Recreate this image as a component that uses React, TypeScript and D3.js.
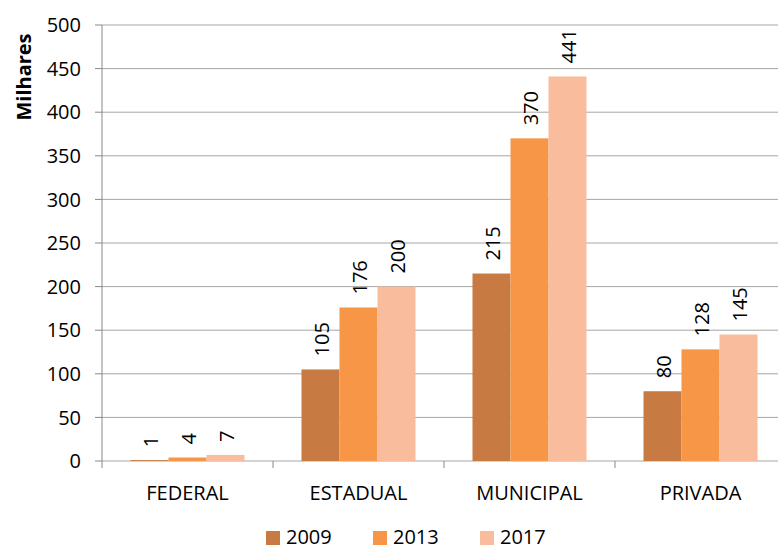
import React from "react";
import * as d3 from "d3";

const categories = ["FEDERAL", "ESTADUAL", "MUNICIPAL", "PRIVADA"];
const years = ["2009", "2013", "2017"];
const values2009 = [1, 105, 215, 80];
const values2013 = [4, 176, 370, 128];
const values2017 = [7, 200, 441, 145];
const yTicks = [0, 50, 100, 150, 200, 250, 300, 350, 400, 450, 500];
const colors = ["#C77B43", "#F79646", "#F9BC9C"];

export default function App() {
  const W = 778, H = 546;
  const left = 102, right = 786, top = 25, bottom = 461;
  const font = "'Open Sans', sans-serif";
  const series = [values2009, values2013, values2017];
  const y = d3.scaleLinear().domain([0, 500]).range([bottom, top]);
  const x0 = d3.scaleBand().domain(categories).range([left, right]).paddingInner(0).paddingOuter(0);
  const x1 = d3.scaleBand().domain(years).range([0, x0.bandwidth()]).paddingInner(0).paddingOuter(0.75);
  return (
    <svg width={W} height={H} style={{ position: "absolute", left: 0, top: 0, fontFamily: font }}>
      <rect width={W} height={H} fill="#fff" />
      {yTicks.map((t) => (
        <g key={t}>
          <line x1={left} x2={W} y1={y(t)} y2={y(t)} stroke="#A6A6A6" strokeWidth={1} />
          <line x1={left - 7} x2={left} y1={y(t)} y2={y(t)} stroke="#888" strokeWidth={1} />
          <text x={left - 21} y={y(t)} dy="0.36em" textAnchor="end" fontSize={20} fill="#000">{t}</text>
        </g>
      ))}
      <line x1={left} x2={left} y1={top} y2={bottom + 7} stroke="#888" strokeWidth={1} />
      {categories.map((c) => (
        <line key={c} x1={x0(c)! + x0.bandwidth()} x2={x0(c)! + x0.bandwidth()} y1={bottom} y2={bottom + 7} stroke="#888" />
      ))}
      {categories.map((c, i) => (
        <g key={c}>
          {series.map((s, j) => {
            const bx = x0(c)! + x1(years[j])!;
            const bw = x1.bandwidth();
            return (
              <g key={j}>
                <rect x={bx} y={y(s[i])} width={bw} height={bottom - y(s[i])} fill={colors[j]} />
                <text transform={`translate(${bx + bw / 2 + 8},${y(s[i]) - 13}) rotate(-90)`} fontSize={20} fill="#000">{s[i]}</text>
              </g>
            );
          })}
          <text x={x0(c)! + x0.bandwidth() / 2} y={500} textAnchor="middle" fontSize={20} fill="#000">{c}</text>
        </g>
      ))}
      <text transform={`translate(31,77) rotate(-90)`} textAnchor="middle" fontSize={20} fontWeight="bold" fill="#000">Milhares</text>
      {years.map((yr, j) => (
        <g key={yr} transform={`translate(${266 + j * 107},531)`}>
          <rect width={14} height={14} fill={colors[j]} />
          <text x={20} y={13} fontSize={20} fill="#000">{yr}</text>
        </g>
      ))}
    </svg>
  );
}
